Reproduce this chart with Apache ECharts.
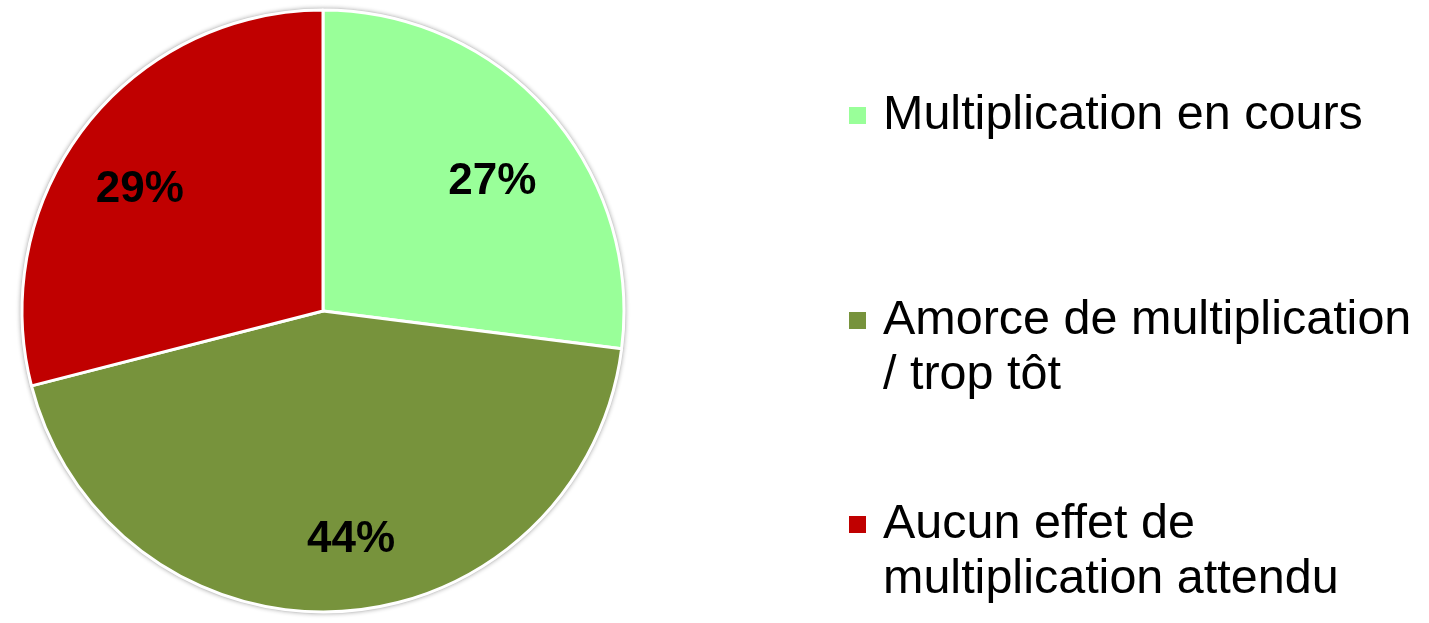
<!DOCTYPE html>
<html>
<head>
<meta charset="utf-8">
<script src="https://cdn.jsdelivr.net/npm/echarts@6/dist/echarts.min.js"></script>
<style>
  html, body { margin: 0; padding: 0; background: #fff; }
  #ec { width: 1429px; height: 623px; }
</style>
</head>
<body>
<div id="ec"></div>
<script>
const categories = ["Multiplication en cours", "Amorce de multiplication / trop tôt", "Aucun effet de multiplication attendu"];
const legendLabels = ["Multiplication en cours", "Amorce de multiplication\n/ trop tôt", "Aucun effet de\nmultiplication attendu"];
const values = [27, 44, 29];
const colors = ["#99FF99", "#77933C", "#C00000"];

// label nudges (px) so the percentages sit where the original put them
const labelOffsets = [[2, 18], [14, 6], [-7, 16]];

const pieData = categories.map((name, i) => ({
  name: name,
  value: values[i],
  itemStyle: { color: colors[i] },
}));

// square icon with an invisible tail so the square lines up with the first text line
const squareIcon = "path://M0,0H17V17H0Z";
const tallIcon = "path://M0,0H17V17H0Z M0,72L0,72";

const legendTops = [88, 293, 497];
const legends = categories.map((name, i) => {
  const twoLines = legendLabels[i].indexOf("\n") >= 0;
  return {
    data: [{ name: name, icon: twoLines ? tallIcon : squareIcon }],
    orient: "vertical",
    left: 849,
    top: legendTops[i],
    padding: 0,
    itemWidth: 17,
    itemHeight: twoLines ? 72 : 17,
    selectedMode: false,
    itemStyle: { borderWidth: 0 },
    formatter: () => legendLabels[i],
    textStyle: {
      fontFamily: "Liberation Sans, Arial, sans-serif",
      fontSize: 48.5,
      lineHeight: 55,
      color: "#000",
      padding: [0, 0, 0, 12],
    },
  };
});

const myChart = echarts.init(document.getElementById("ec"));
myChart.setOption({
  animation: false,
  backgroundColor: "#fff",
  legend: legends,
  series: [
    {
      name: "edge",
      type: "pie",
      center: [323, 311],
      radius: [0, 303],
      startAngle: 90,
      silent: true,
      label: { show: false },
      labelLine: { show: false },
      itemStyle: {
        color: "#d0d0d0",
        borderWidth: 0,
        shadowBlur: 4,
        shadowColor: "rgba(0,0,0,0.3)",
      },
      emphasis: { disabled: true },
      data: values.map((v) => ({ value: v })),
    },
    {
      name: "pie",
      type: "pie",
      center: [323, 311],
      radius: [0, 301],
      startAngle: 90,
      clockwise: true,
      label: { show: false },
      labelLine: { show: false },
      itemStyle: { borderColor: "#fff", borderWidth: 3 },
      emphasis: { disabled: true },
      data: pieData,
    },
    {
      name: "labels",
      type: "pie",
      center: [323, 311],
      radius: [138, 302],
      startAngle: 90,
      clockwise: true,
      silent: true,
      itemStyle: { color: "rgba(0,0,0,0)", borderWidth: 0 },
      label: {
        show: true,
        position: "inside",
        formatter: "{c}%",
        fontFamily: "Liberation Sans, Arial, sans-serif",
        fontWeight: "bold",
        fontSize: 44,
        color: "#000",
      },
      labelLine: { show: false },
      emphasis: { disabled: true },
      data: categories.map((name, i) => ({
        name: name,
        value: values[i],
        label: { offset: labelOffsets[i] },
      })),
    },
  ],
});
</script>
</body>
</html>
